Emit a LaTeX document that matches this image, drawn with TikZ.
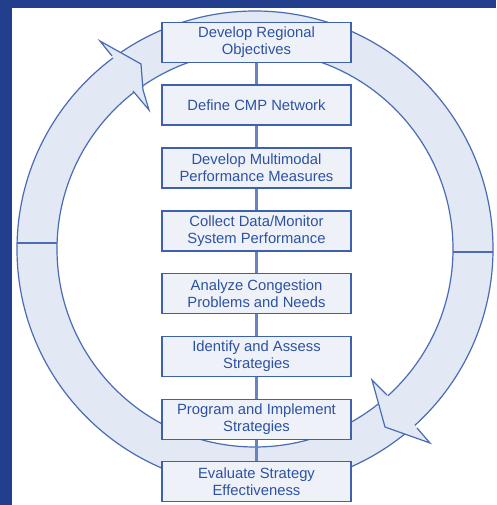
\documentclass[tikz,border=0pt]{standalone}
\usepackage{fontspec}
\setmainfont{Liberation Sans}
\definecolor{framecol}{HTML}{223F8E}
\definecolor{ringfill}{HTML}{E2E8F4}
\definecolor{ringline}{HTML}{4A6CB4}
\definecolor{boxfill}{HTML}{EEF1F8}
\definecolor{boxline}{HTML}{3E61AD}
\definecolor{txtcol}{HTML}{2D52A2}
\definecolor{conncol}{HTML}{6684C0}
\begin{document}
\begin{tikzpicture}[x=1pt,y=-1pt,
  stepbox/.style={draw=boxline, line width=1.8pt, fill=boxfill,
    minimum width=189pt, minimum height=40pt, align=center, text=txtcol,
    font=\fontsize{14.8}{17}\selectfont, inner sep=0pt},
  link/.style={draw=conncol, line width=3.5pt},
  ringedge/.style={draw=ringline, line width=1.2pt, line join=miter}]
\useasboundingbox (0,0) rectangle (496,505);
\fill[white] (0,0) rectangle (496,505);
\fill[framecol] (0,0) rectangle (12,505);
\fill[framecol] (0,0) rectangle (496,8);
% ring
\coordinate (c) at (255,249);
\fill[ringfill, even odd rule] (c) circle[radius=238pt] (c) circle[radius=198pt];
\draw[ringedge] (c) circle[radius=238pt];
\draw[ringedge] (c) circle[radius=198pt];
\draw[ringedge] (17,243) -- (57,243);
\draw[ringedge] (493,252) -- (453,252);
% upper-left arrowhead
\fill[ringfill] (112,56) -- (100,41) -- (141,64) -- (143,90) -- (149,110) -- (133,91) -- cycle;
\draw[ringedge] (112,56) -- (100,41) -- (141,64) -- (143,90) -- (149,110) -- (133,91);
% lower-right arrowhead
\fill[ringfill] (387,395) -- (372,380) -- (385,427) -- (430,443) -- (417,428) -- cycle;
\draw[ringedge] (387,395) -- (372,380) -- (385,427) -- (430,443) -- (417,428);
% boxes
\node[stepbox] (b1) at (256.5,42.5) {Develop Regional\\Objectives};
\node[stepbox] (b2) at (256.5,105.2) {Define CMP Network};
\node[stepbox] (b3) at (256.5,168) {Develop Multimodal\\Performance Measures};
\node[stepbox] (b4) at (256.5,230.7) {Collect Data/Monitor\\System Performance};
\node[stepbox] (b5) at (256.5,293.5) {Analyze Congestion\\Problems and Needs};
\node[stepbox] (b6) at (256.5,356.5) {Identify and Assess\\Strategies};
\node[stepbox] (b7) at (256.5,419.5) {Program and Implement\\Strategies};
\node[stepbox] (b8) at (256.5,481.5) {Evaluate Strategy\\Effectiveness};
\foreach \a/\b in {b1/b2,b2/b3,b3/b4,b4/b5,b5/b6,b6/b7,b7/b8}
  \draw[link] (\a.south) -- (\b.north);
\end{tikzpicture}
\end{document}
